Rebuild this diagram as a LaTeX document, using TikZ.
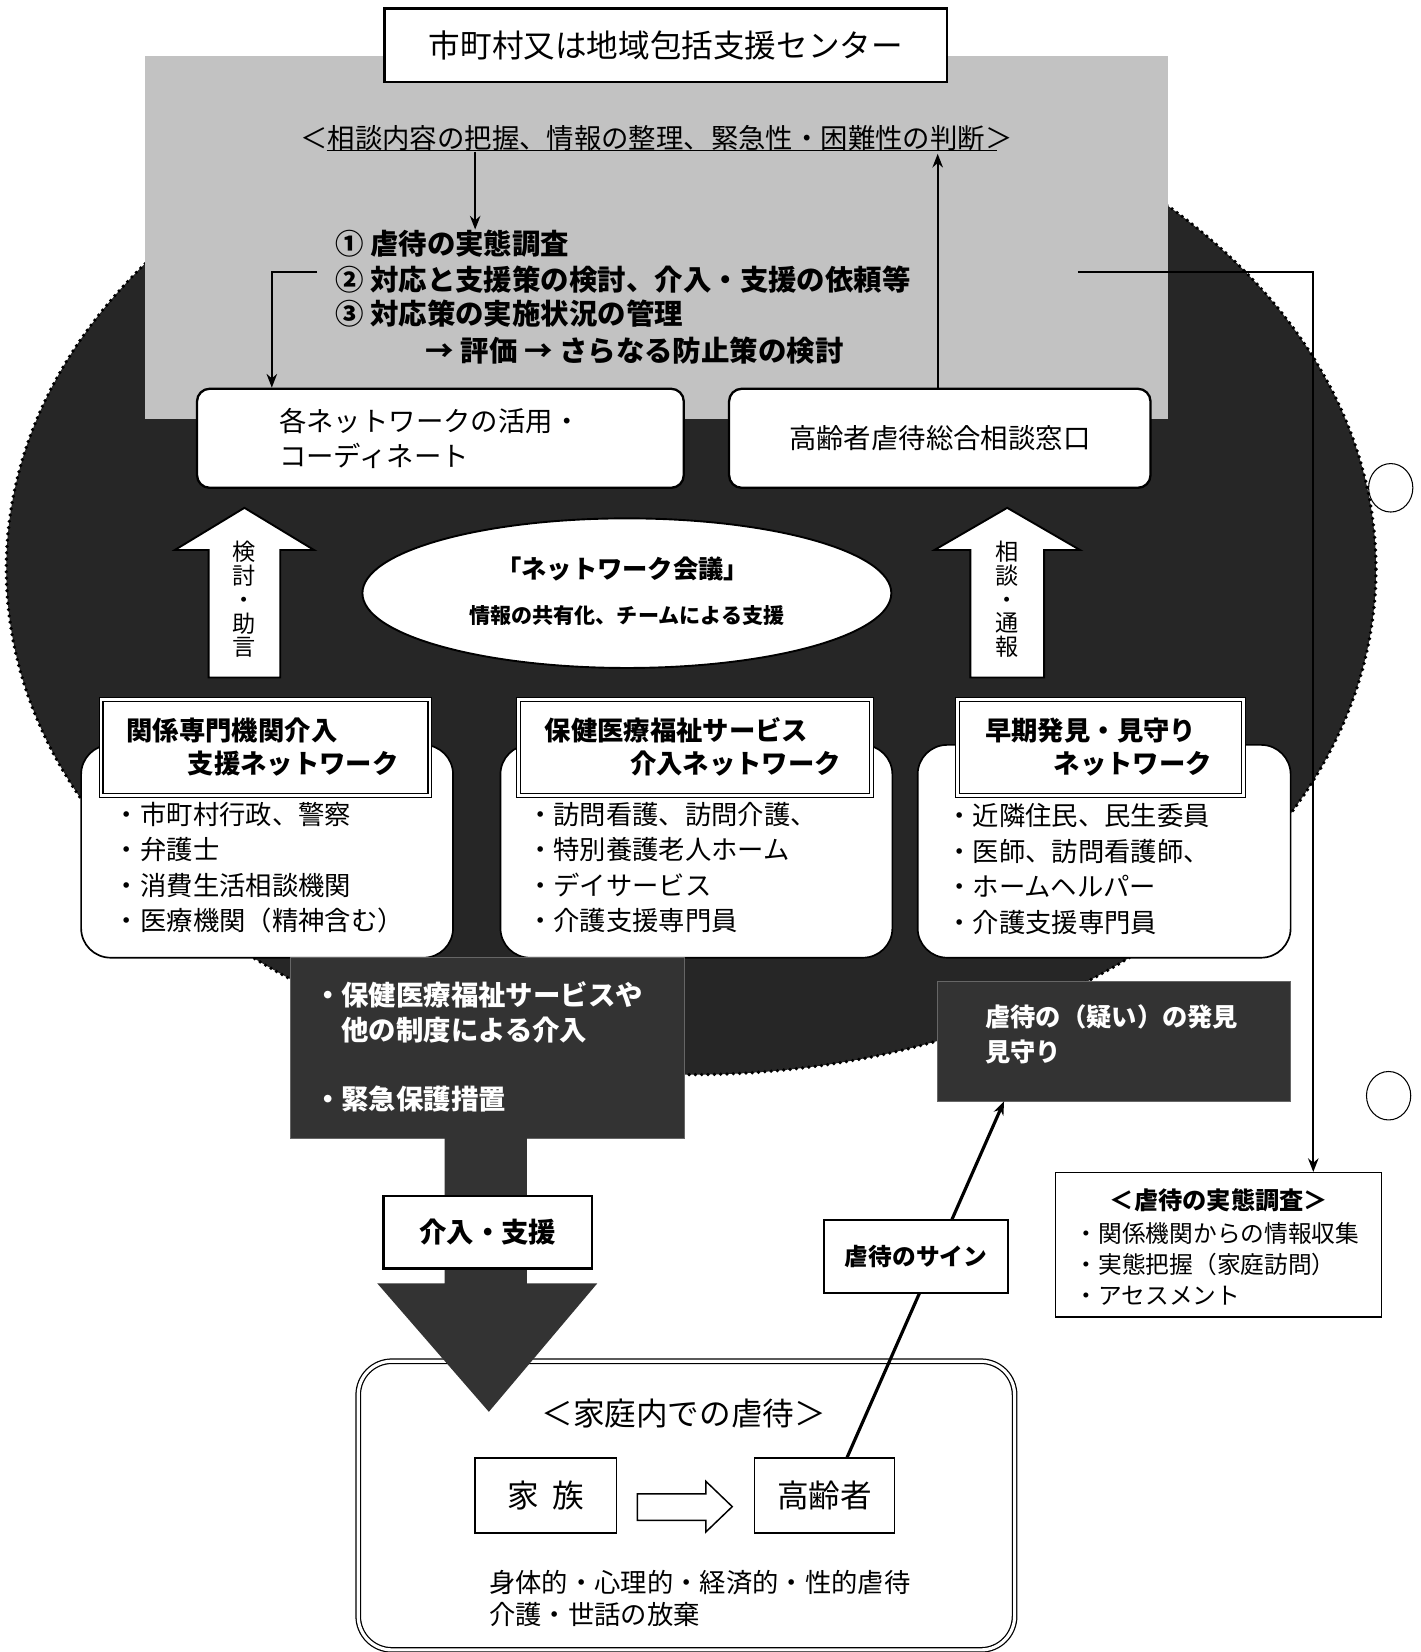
\documentclass[tikz,border=0pt]{standalone}
\usepackage{fontspec}
\setmainfont{Noto Sans CJK JP}
\usepackage{tikz}
\usetikzlibrary{shapes.geometric, arrows.meta, positioning, calc}
\definecolor{blobgray}{gray}{0.15}
\definecolor{sheetgray}{gray}{0.76}
\definecolor{boxdark}{gray}{0.2}

\begin{document}
\begin{tikzpicture}[
    x=1pt, y=-1pt,
    box/.style={rectangle, draw, line width=1.4pt, fill=white, inner sep=0pt, align=center},
    headbox/.style={rectangle, draw, double, double distance=2.5pt, line width=1.2pt, fill=white, minimum height=91pt},
    darkbox/.style={rectangle, fill=boxdark, draw=black!60, inner sep=0pt},
    txt/.style={inner sep=0pt, anchor=west, align=left},
    blockup/.style={draw, line width=1.8pt, fill=white},
    arrow/.style={-{Stealth[length=13pt, width=10pt]}, line width=1.6pt}
]
\useasboundingbox (0,0) rectangle (1348,1568);
\fill[white] (0,0) rectangle (1348,1568);

% dark network area
\fill[blobgray] (656,540) ellipse [x radius=650pt, y radius=480pt];
\draw[line width=3.5pt, dash pattern=on 0pt off 6pt, line cap=round] (656,540) ellipse [x radius=650pt, y radius=480pt];

% centre sheet
\fill[sheetgray] (138,53) rectangle (1109,398);
\node[box, line width=2.5pt, minimum width=534pt, minimum height=70pt, font=\fontsize{30}{36}\selectfont] (centre) at (632,43) {市町村又は地域包括支援センター};
\node[inner sep=0pt, font=\fontsize{26}{32}\selectfont] (judge) at (623,131) {＜相談内容の把握、情報の整理、緊急性・困難性の判断＞};
\draw[line width=1.2pt] (310,143) -- (946,143);

\node[txt, font=\bfseries\fontsize{27}{32}\selectfont] (step1) at (318,231) {① 虐待の実態調査};
\node[txt, font=\bfseries\fontsize{27}{32}\selectfont] (step2) at (318,265) {② 対応と支援策の検討、介入・支援の依頼等};
\node[txt, font=\bfseries\fontsize{27}{32}\selectfont] (step3) at (318,298) {③ 対応策の実施状況の管理};
\node[txt, font=\bfseries\fontsize{27}{32}\selectfont] (step4) at (404,333) {→ 評価 → さらなる防止策の検討};
\coordinate (judgeL) at (451,144);
\coordinate (judgeR) at (890,146);
\coordinate (stepL) at (301,258);
\coordinate (stepR) at (1023,258);
\draw[arrow] (judgeL) -- (step1.north -| judgeL);

% coordination and counter
\node[box, rounded corners=12pt, line width=2.2pt, minimum width=462pt, minimum height=94pt, text width=306pt, align=left, font=\fontsize{26}{33}\selectfont] (netuse) at (418,416) {各ネットワークの活用・\\コーディネート};
\node[box, rounded corners=12pt, line width=2.2pt, minimum width=400pt, minimum height=94pt, font=\fontsize{26}{33}\selectfont] (window) at (892,416) {高齢者虐待総合相談窓口};
\draw[arrow] (stepL) -| ([xshift=-160pt]netuse.north);
\draw[arrow] (window.north -| judgeR) -- (judgeR);

% up arrows
\draw[blockup] (198,643) -- (198,522) -- (166,522) -- (232,482) -- (298,522) -- (266,522) -- (266,643) -- cycle;
\draw[blockup] (921,643) -- (921,522) -- (887,522) -- (956,482) -- (1025,522) -- (991,522) -- (991,643) -- cycle;
\node[inner sep=0pt, align=center, font=\fontsize{22}{22.5}\selectfont] (advise) at (232,569) {検\\討\\・\\助\\言};
\node[inner sep=0pt, align=center, font=\fontsize{22}{22.5}\selectfont] (consult) at (956,569) {相\\談\\・\\通\\報};

% meeting
\node[ellipse, draw, line width=1.8pt, fill=white, minimum width=502pt, minimum height=142pt] (meeting) at (595,563) {};
\node[inner sep=0pt, font=\bfseries\fontsize{24}{30}\selectfont] (meetingname) at (591,540) {「ネットワーク会議」};
\node[inner sep=0pt, font=\bfseries\fontsize{20}{24}\selectfont] (meetingaim) at (595,584) {情報の共有化、チームによる支援};

% three networks
\node[box, rounded corners=28pt, line width=1.6pt, minimum width=353pt, minimum height=202pt] (expertnet) at (253.5,808) {};
\node[headbox, minimum width=312pt] (experthead) at (252,709.5) {};
\node[txt, font=\bfseries\fontsize{25}{30}\selectfont] (expertname1) at (120,693) {関係専門機関介入};
\node[txt, font=\bfseries\fontsize{25}{30}\selectfont] (expertname2) at (178,725) {支援ネットワーク};
\node[txt, font=\fontsize{25}{33.7}\selectfont] (expertlist) at (108,823.5) {・市町村行政、警察\\・弁護士\\・消費生活相談機関\\・医療機関（精神含む）};

\node[box, rounded corners=28pt, line width=1.6pt, minimum width=372pt, minimum height=202pt] (servicenet) at (661,808) {};
\node[headbox, minimum width=335pt] (servicehead) at (659.5,709.5) {};
\node[txt, font=\bfseries\fontsize{25}{30}\selectfont] (servicename1) at (517,693) {保健医療福祉サービス};
\node[txt, font=\bfseries\fontsize{25}{30}\selectfont] (servicename2) at (598,725) {介入ネットワーク};
\node[txt, font=\fontsize{25}{33.7}\selectfont] (servicelist) at (500,823.5) {・訪問看護、訪問介護、\\・特別養護老人ホーム\\・デイサービス\\・介護支援専門員};

\node[box, rounded corners=28pt, line width=1.6pt, minimum width=354pt, minimum height=202pt] (watchnet) at (1048,808) {};
\node[headbox, minimum width=271pt] (watchhead) at (1044.5,709.5) {};
\node[txt, font=\bfseries\fontsize{25}{30}\selectfont] (watchname1) at (935,693) {早期発見・見守り};
\node[txt, font=\bfseries\fontsize{25}{30}\selectfont] (watchname2) at (1000,725) {ネットワーク};
\node[txt, font=\fontsize{25}{33.7}\selectfont] (watchlist) at (898,825) {・近隣住民、民生委員\\・医師、訪問看護師、\\・ホームヘルパー\\・介護支援専門員};

% dark boxes
\node[darkbox, minimum width=374pt, minimum height=171pt] (action) at (462,994.5) {};
\node[txt, text=white, font=\bfseries\fontsize{26}{33}\selectfont] (actionA) at (298,961) {・保健医療福祉サービスや\\\phantom{・}他の制度による介入};
\node[txt, text=white, font=\bfseries\fontsize{26}{33}\selectfont] (actionB) at (298,1043) {・緊急保護措置};
\node[darkbox, minimum width=335pt, minimum height=114pt] (finding) at (1057.5,988) {};
\node[txt, text=white, font=\bfseries\fontsize{24}{33}\selectfont] (findingtext) at (935,981.5) {虐待の（疑い）の発見\\見守り};

% home
\node[box, double, double distance=3pt, line width=1.2pt, rounded corners=32pt, minimum width=623pt, minimum height=274pt] (home) at (651.5,1429) {};
\node[inner sep=0pt, font=\fontsize{30}{36}\selectfont] (homename) at (649,1342) {＜家庭内での虐待＞};
\node[box, minimum width=134pt, minimum height=71pt, font=\fontsize{30}{36}\selectfont] (family) at (518,1419.5) {家\hspace{0.4em}族};
\node[box, minimum width=133pt, minimum height=71pt, font=\fontsize{30}{36}\selectfont] (elder) at (782.5,1419.5) {高齢者};
\draw[line width=1.4pt, fill=white] (605,1418) -- (670,1418) -- (670,1406) -- (695,1430) -- (670,1454) -- (670,1443) -- (605,1443) -- cycle;
\node[txt, font=\fontsize{25}{30}\selectfont] (harm) at (464,1517) {身体的・心理的・経済的・性的虐待\\介護・世話の放棄};

% intervention arrow
\fill[boxdark] (422,1079) -- (422,1218) -- (358,1218) -- (464,1340) -- (567,1218) -- (500,1218) -- (500,1079) -- cycle;
\node[box, line width=2pt, minimum width=198pt, minimum height=69pt, font=\bfseries\fontsize{26}{32}\selectfont] (intervene) at (463,1169.5) {介入・支援};

% signs
\draw[arrow, line width=3pt] ([xshift=21.5pt]elder.north) -- ([xshift=-104.5pt]finding.south);
\node[box, line width=1.6pt, minimum width=175pt, minimum height=69pt, font=\bfseries\fontsize{22.5}{28}\selectfont] (sign) at (869.5,1192.5) {虐待のサイン};

% survey
\node[box, line width=1.2pt, minimum width=309pt, minimum height=137pt] (survey) at (1156.5,1181.5) {};
\node[inner sep=0pt, font=\bfseries\fontsize{23}{28}\selectfont] (surveyname) at (1157,1139) {＜虐待の実態調査＞};
\node[txt, font=\fontsize{22.5}{29.5}\selectfont] (surveylist) at (1020,1199.5) {・関係機関からの情報収集\\・実態把握（家庭訪問）\\・アセスメント};
\draw[arrow] (stepR) -| ([xshift=90pt]survey.north);

% punch holes
\draw[line width=1pt] (1320,463) ellipse [x radius=21pt, y radius=23pt];
\draw[line width=1pt] (1318,1040) ellipse [x radius=21pt, y radius=23pt];

\end{tikzpicture}
\end{document}
